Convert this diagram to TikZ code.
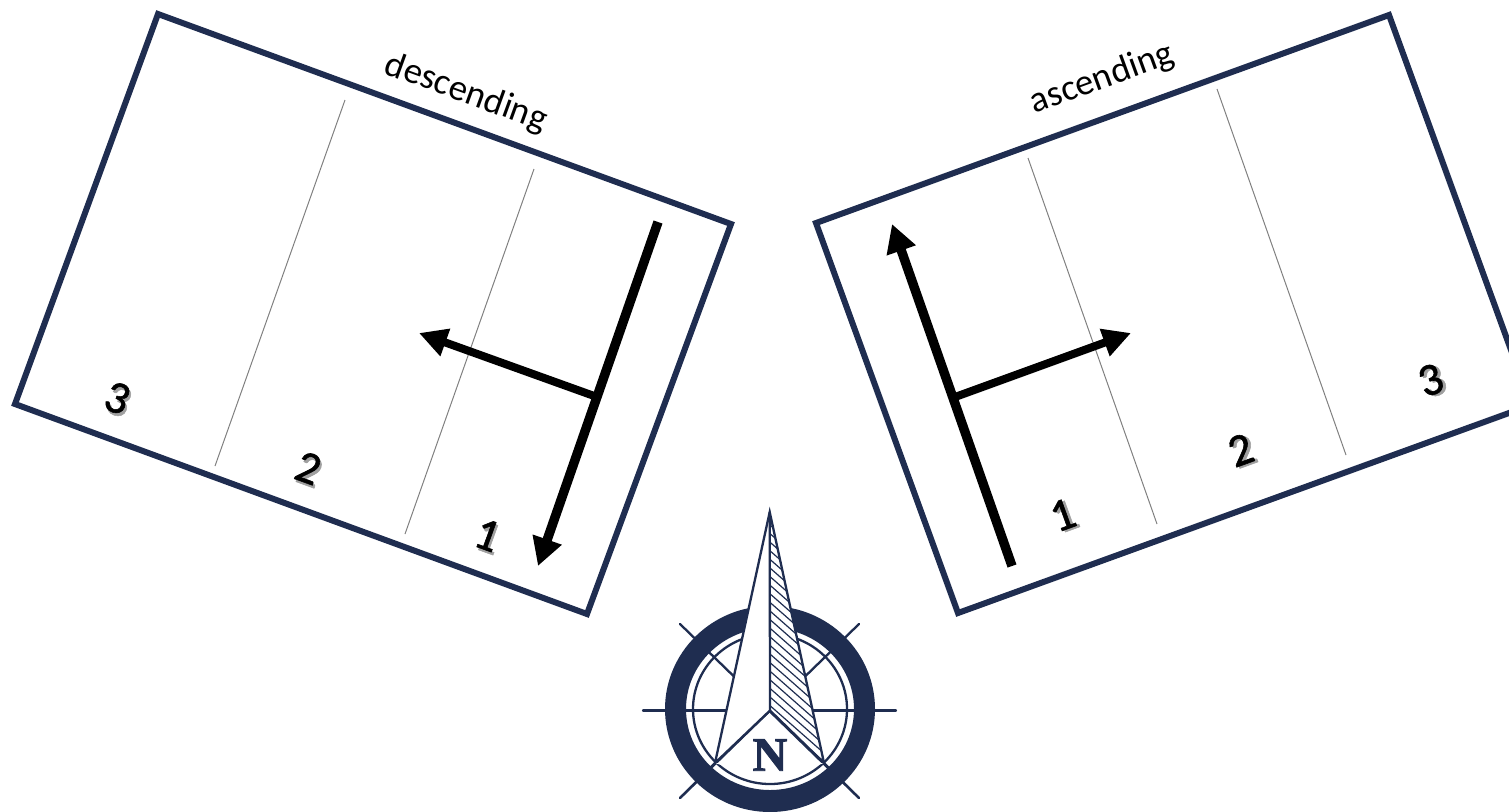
\documentclass[tikz,border=0pt]{standalone}
\usepackage{fontspec}
\setmainfont{Carlito}
\newfontfamily\needlefont[FakeBold=2]{Liberation Serif Bold}
\newfontfamily\digitfont[FakeBold=1.2]{Carlito}
\usetikzlibrary{arrows.meta}
\definecolor{navy}{HTML}{1F2D50}
\definecolor{shadowgrey}{HTML}{A0A0A0}
\newcommand{\shadowdigit}[1]{\makebox[0pt][l]{\hspace{1.3pt}\raisebox{-1.1pt}{\textcolor{shadowgrey}{#1}}}#1}
\tikzset{
  frame/.style={draw=navy,line width=3pt,line join=miter},
  divider/.style={draw=black!50,line width=0.5pt},
  flow/.style={draw=black,line width=4.7pt,-{Triangle[length=14pt,width=14.5pt]}},
  look/.style={draw=black,line width=4pt,-{Triangle[length=14pt,width=13.7pt]}},
  caption/.style={font=\fontsize{18.4}{18.4}\selectfont,text=black,inner sep=0pt},
  digit/.style={font=\digitfont\fontsize{23}{23}\selectfont,text=black,inner sep=0pt},
  compass/.style={draw=navy,line width=1.15pt},
}
\begin{document}
\begin{tikzpicture}[x=0.5pt,y=-0.5pt]
\clip (0,0) rectangle (1509,811);
% left frame
\coordinate (la) at (158,14); \coordinate (lb) at (731,224);
\coordinate (lc) at (587,614); \coordinate (ld) at (15,404);
\coordinate (l1t) at (345,100); \coordinate (l1b) at (215,466);
\coordinate (l2t) at (534,169); \coordinate (l2b) at (405,534);
\draw[divider] (l1t) -- (l1b);
\draw[divider] (l2t) -- (l2b);
\draw[frame] (la) -- (lb) -- (lc) -- (ld) -- cycle;
% right frame
\coordinate (ra) at (816,223); \coordinate (rb) at (1389,15);
\coordinate (rc) at (1531,405); \coordinate (rd) at (958,613);
\coordinate (r1t) at (1028,158); \coordinate (r1b) at (1157,524);
\coordinate (r2t) at (1217,89); \coordinate (r2b) at (1346,455);
\draw[divider] (r1t) -- (r1b);
\draw[divider] (r2t) -- (r2b);
\draw[frame] (ra) -- (rb) -- (rc) -- (rd) -- cycle;
% arrows
\coordinate (lfs) at (658,222); \coordinate (lfe) at (538,566);
\coordinate (lls) at (597,397); \coordinate (lle) at (419,333);
\draw[flow] (lfs) -- (lfe);
\draw[look] (lls) -- (lle);
\coordinate (rfs) at (1012,566); \coordinate (rfe) at (892,224);
\coordinate (rls) at (955,397); \coordinate (rle) at (1131,333);
\draw[flow] (rfs) -- (rfe);
\draw[look] (rls) -- (rle);
% labels
\node[caption,rotate=-20] (desc) at (466,93) {descending};
\node[caption,rotate=20] (asc) at (1102,79) {ascending};
\node[digit,rotate=-20] (d3) at (117,399) {\shadowdigit{3}};
\node[digit,rotate=-20] (d2) at (308,469) {\shadowdigit{2}};
\node[digit,rotate=-20] (d1) at (487,536) {\shadowdigit{1}};
\node[digit,rotate=20] (a1) at (1063,516) {\shadowdigit{1}};
\node[digit,rotate=20] (a2) at (1241,451) {\shadowdigit{2}};
\node[digit,rotate=20] (a3) at (1431,381) {\shadowdigit{3}};
% compass
\coordinate (cc) at (770,710.5);
\coordinate (tickW) at (643,710.5); \coordinate (tickE) at (896,710.5);
\coordinate (tickNW) at (680,624); \coordinate (tickNE) at (859,624);
\coordinate (tickSW) at (680,798); \coordinate (tickSE) at (859,798);
\draw[compass,line cap=round] (tickW) -- (tickE);
\draw[compass,line cap=round] (tickNW) -- (tickSE);
\draw[compass,line cap=round] (tickNE) -- (tickSW);
\fill[navy,even odd rule] (770,709) ellipse [x radius=105,y radius=103]
                          (770,709) ellipse [x radius=84,y radius=81];
\draw[compass] (770,709) ellipse [x radius=77,y radius=75];
\coordinate (tip) at (769.7,512); \coordinate (bl) at (715,763);
\coordinate (br) at (824,763); \coordinate (notch) at (770,710.5);
\fill[white] (tip) -- (bl) -- (notch) -- (br) -- cycle;
\fill[white] (bl) -- (br) -- (770,781) -- cycle;
\begin{scope}
  \clip (tip) -- (notch) -- (br) -- cycle;
  \foreach \k in {0,...,34} {
    \draw[navy,line width=0.6pt] (740,{520+\k*8.6-30}) -- ++(100,88);
  }
\end{scope}
\draw[compass,line join=miter,miter limit=20] (tip) -- (bl) -- (notch) -- (br) -- cycle;
\draw[compass] (tip) -- (notch);
\draw[compass] (bl) -- (tickSW);
\draw[compass] (br) -- (tickSE);
\node[font=\needlefont\fontsize{24}{24}\selectfont,text=navy,inner sep=0pt] (north) at (770,755) {N};
\end{tikzpicture}
\end{document}
